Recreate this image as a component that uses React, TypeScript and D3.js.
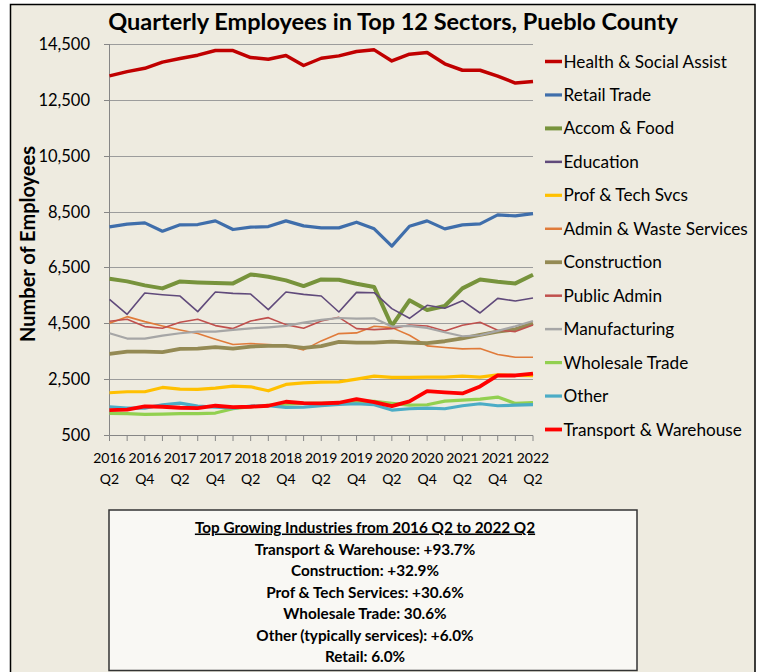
import React from "react";
import * as d3 from "d3";

const quarters = [
  "2016 Q2","2016 Q3","2016 Q4","2017 Q1","2017 Q2","2017 Q3","2017 Q4","2018 Q1","2018 Q2","2018 Q3","2018 Q4","2019 Q1","2019 Q2",
  "2019 Q3","2019 Q4","2020 Q1","2020 Q2","2020 Q3","2020 Q4","2021 Q1","2021 Q2","2021 Q3","2021 Q4","2022 Q1","2022 Q2",
];

const healthSocial = [13360,13510,13630,13850,13980,14100,14265,14265,14015,13955,14090,13730,13990,14075,14230,14290,13895,14135,14195,13790,13560,13560,13350,13100,13155];
const retailTrade = [7953,8048,8095,7798,8024,8036,8167,7857,7940,7964,8167,7988,7917,7917,8119,7881,7262,7976,8167,7881,8024,8060,8381,8345,8429];
const accomFood = [6095,6000,5857,5750,6000,5964,5940,5928,6250,6166,6035,5833,6071,6059,5916,5797,4405,5321,4976,5119,5750,6071,5988,5928,6237];
const education = [5357,4821,5583,5523,5476,4917,5619,5571,5547,4988,5619,5535,5476,4905,5607,5595,5024,4678,5143,5036,5309,4869,5393,5297,5404];
const profTech = [2012,2048,2048,2202,2143,2131,2179,2250,2226,2083,2310,2369,2393,2405,2500,2607,2560,2560,2571,2571,2607,2571,2655,2631,2625];
const adminWaste = [4500,4738,4560,4405,4262,4131,3929,3738,3774,3738,3703,3548,3869,4131,4155,4393,4345,4071,3691,3631,3584,3596,3381,3286,3286];
const construction = [3405,3488,3488,3464,3583,3595,3643,3595,3667,3690,3690,3619,3679,3833,3810,3810,3845,3810,3786,3857,3964,4083,4202,4286,4500];
const publicAdmin = [4571,4643,4381,4321,4536,4643,4417,4310,4583,4702,4452,4321,4583,4714,4310,4274,4310,4440,4405,4226,4428,4536,4250,4202,4440];
const manufacturing = [4143,3953,3953,4060,4143,4202,4202,4262,4321,4357,4405,4524,4619,4690,4667,4678,4381,4405,4333,4179,4036,4071,4226,4393,4583];
const wholesaleTrade = [1274,1262,1238,1250,1262,1262,1286,1440,1512,1560,1607,1631,1631,1655,1702,1702,1631,1571,1583,1714,1750,1786,1857,1631,1664];
const otherServices = [1512,1464,1464,1583,1643,1536,1500,1464,1536,1548,1488,1500,1548,1595,1619,1583,1393,1440,1464,1440,1548,1619,1548,1571,1590];
const transportWarehouse = [1393,1405,1524,1512,1476,1464,1548,1500,1512,1548,1690,1643,1631,1655,1786,1679,1536,1702,2071,2024,1988,2238,2631,2631,2700];

const seriesNames = [
  "Health & Social Assist","Retail Trade","Accom & Food","Education","Prof & Tech Svcs","Admin & Waste Services",
  "Construction","Public Admin","Manufacturing","Wholesale Trade","Other","Transport & Warehouse",
];
const seriesValues = [healthSocial, retailTrade, accomFood, education, profTech, adminWaste, construction, publicAdmin, manufacturing, wholesaleTrade, otherServices, transportWarehouse];
const seriesColors = ["#C00000","#3F6EAB","#77933C","#604A7B","#FFC000","#E07B3A","#948A54","#C0504D","#A6A6A6","#92D050","#4BACC6","#FF0000"];
const seriesWidths = [3.5,3.2,4,1.6,3.2,1.6,3.8,1.6,2.2,3.2,3.2,3.8];

const yTicks = [500,2500,4500,6500,8500,10500,12500,14500];

const boxTitle = "Top Growing Industries from 2016 Q2 to 2022 Q2";
const boxLines = [
  "Transport & Warehouse: +93.7%",
  "Construction: +32.9%",
  "Prof & Tech Services: +30.6%",
  "Wholesale Trade: 30.6%",
  "Other (typically services): +6.0%",
  "Retail: 6.0%",
];

const FONT = "Lato, 'Open Sans', sans-serif";

export default function App() {
  const W = 764, H = 672;
  const x = d3.scaleLinear().domain([0, quarters.length - 1]).range([109.5, 533]);
  const y = d3.scaleLinear().domain([500, 14500]).range([435, 44]);
  const fmt = d3.format(",");
  const line = d3.line<number>().x((_, i) => x(i)).y((v) => y(v));
  const legendY = d3.scaleLinear().domain([0, 11]).range([61.5, 429.5]);

  return (
    <svg width={W} height={H} style={{ position: "absolute", left: 0, top: 0 }} fontFamily={FONT}>
      <rect x={10.5} y={4.5} width={744.5} height={690} fill="#EEEBE0" stroke="#000" strokeWidth={1.5} />
      <text x={393} y={30} textAnchor="middle" fontSize={23.5} fontWeight="bold" fill="#000">
        Quarterly Employees in Top 12 Sectors, Pueblo County
      </text>
      {yTicks.map((t) => (
        <g key={t}>
          {t !== 500 && (
            <line x1={x(0)} x2={533} y1={Math.round(y(t)) + 0.5} y2={Math.round(y(t)) + 0.5} stroke="#9C9C9C" strokeWidth={1} />
          )}
          <line x1={104} x2={x(0)} y1={Math.round(y(t)) + 0.5} y2={Math.round(y(t)) + 0.5} stroke="#868686" />
          <text x={90} y={y(t) + 6} textAnchor="end" fontSize={16.5} fill="#000">{fmt(t)}</text>
        </g>
      ))}
      <line x1={x(0)} x2={x(0)} y1={44} y2={435.5} stroke="#868686" />
      <line x1={x(0)} x2={533} y1={435.5} y2={435.5} stroke="#868686" />
      {quarters.map((q, i) => (
        <line key={q} x1={x(i)} x2={x(i)} y1={435.5} y2={441} stroke="#868686" />
      ))}
      {quarters.map((q, i) =>
        i % 2 === 0 ? (
          <text key={"l" + q} textAnchor="middle" fontSize={14} fill="#000">
            <tspan x={x(i)} y={463}>{q.split(" ")[0]}</tspan>
            <tspan x={x(i)} y={484}>{q.split(" ")[1]}</tspan>
          </text>
        ) : null
      )}
      <text transform={`translate(35,244) rotate(-90)`} textAnchor="middle" fontSize={20} fontWeight="bold" fill="#000">
        Number of Employees
      </text>
      {seriesValues.map((vals, k) => (
        <path key={seriesNames[k]} d={line(vals) || ""} fill="none" stroke={seriesColors[k]} strokeWidth={seriesWidths[k]} strokeLinejoin="round" />
      ))}
      {seriesNames.map((n, k) => (
        <g key={"lg" + n}>
          <line x1={545} x2={562} y1={legendY(k)} y2={legendY(k)} stroke={seriesColors[k]} strokeWidth={Math.max(2.5, seriesWidths[k])} />
          <text x={563.5} y={legendY(k) + 6} fontSize={17.2} fill="#000">{n}</text>
        </g>
      ))}
      <rect x={109} y={510} width={528} height={160.5} fill="#F9F8F4" stroke="#333" strokeWidth={1.5} />
      <text x={365} y={532.5} textAnchor="middle" fontSize={15.3} fontWeight="bold" fill="#000" textDecoration="underline">
        {boxTitle}
      </text>
      {boxLines.map((t, i) => (
        <text key={t} x={365} y={554.5 + i * 21.5} textAnchor="middle" fontSize={15.3} fontWeight="bold" fill="#000">{t}</text>
      ))}
    </svg>
  );
}
